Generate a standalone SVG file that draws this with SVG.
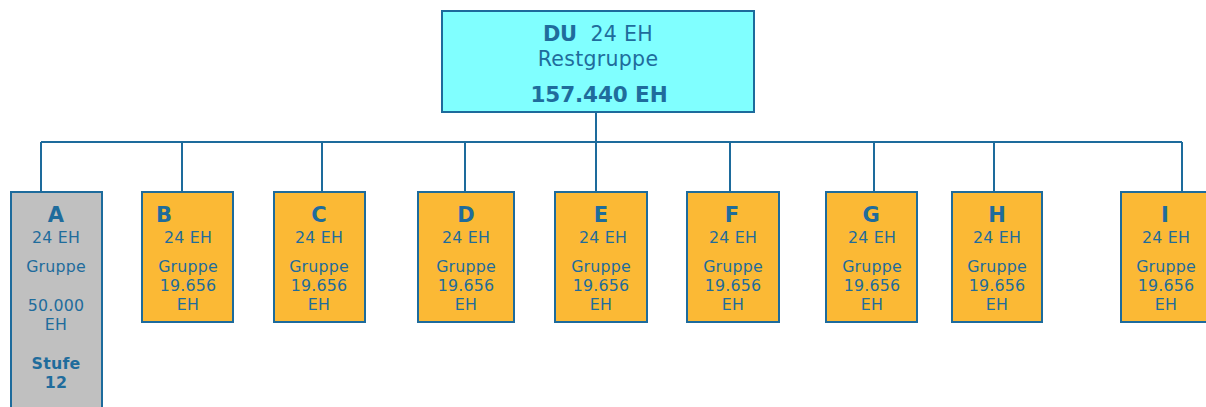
<svg xmlns="http://www.w3.org/2000/svg" width="1206" height="407" viewBox="0 0 1206 407">
<style>
.box{stroke:#1d6b9c;stroke-width:2}
.top{fill:#80ffff}
.org{fill:#fbb935}
.gry{fill:#c0c0c0}
text{font-family:"DejaVu Sans",Verdana,sans-serif;fill:#1f6c9c;text-anchor:middle}
.t{font-size:15.8px;letter-spacing:0.2px}
.h{font-size:21px;font-weight:bold}
.big{font-size:20.5px;letter-spacing:0.3px}
.bigb{font-size:21.5px;font-weight:bold;letter-spacing:-0.1px}
.c{fill:none;stroke:#1d6b9c;stroke-width:2}
</style>
<rect width="1206" height="407" fill="#ffffff"/>
<g id="connectors">
<path class="c" d="M596,112V142M41,142H1182M41,142V192M182,142V192M322,142V192M465,142V192M596,142V192M730,142V192M874,142V192M994,142V192M1182,142V192"/>
</g>
<g id="DU">
<rect class="box top" x="442" y="11" width="312" height="101"/>
<text x="598" y="41"><tspan font-size="21px" font-weight="bold" letter-spacing="-0.5px">DU</tspan><tspan class="big" dx="14">24 EH</tspan></text>
<text class="big" x="598" y="66">Restgruppe</text>
<text class="bigb" x="599" y="102">157.440 EH</text>
</g>
<g id="A">
<rect class="box gry" x="11" y="192" width="91" height="218"/>
<text class="h" x="56" y="222">A</text>
<text class="t" x="56" y="243">24 EH</text>
<text class="t" x="56" y="272">Gruppe</text>
<text class="t" x="56" y="311">50.000</text>
<text class="t" x="56" y="330">EH</text>
<text class="t" x="56" y="369" font-weight="bold">Stufe</text>
<text class="t" x="56" y="388" font-weight="bold">12</text>
</g>
<g id="B">
<rect class="box org" x="142" y="192" width="91" height="130"/>
<text class="h" x="164" y="222">B</text>
<text class="t" x="188" y="243">24 EH</text>
<text class="t" x="188" y="272">Gruppe</text>
<text class="t" x="188" y="291">19.656</text>
<text class="t" x="188" y="310">EH</text>
</g>
<g id="C">
<rect class="box org" x="274" y="192" width="91" height="130"/>
<text class="h" x="319" y="222">C</text>
<text class="t" x="319" y="243">24 EH</text>
<text class="t" x="319" y="272">Gruppe</text>
<text class="t" x="319" y="291">19.656</text>
<text class="t" x="319" y="310">EH</text>
</g>
<g id="D">
<rect class="box org" x="418" y="192" width="96" height="130"/>
<text class="h" x="466" y="222">D</text>
<text class="t" x="466" y="243">24 EH</text>
<text class="t" x="466" y="272">Gruppe</text>
<text class="t" x="466" y="291">19.656</text>
<text class="t" x="466" y="310">EH</text>
</g>
<g id="E">
<rect class="box org" x="555" y="192" width="92" height="130"/>
<text class="h" x="601" y="222">E</text>
<text class="t" x="603" y="243">24 EH</text>
<text class="t" x="601" y="272">Gruppe</text>
<text class="t" x="601" y="291">19.656</text>
<text class="t" x="601" y="310">EH</text>
</g>
<g id="F">
<rect class="box org" x="687" y="192" width="92" height="130"/>
<text class="h" x="732" y="222">F</text>
<text class="t" x="733" y="243">24 EH</text>
<text class="t" x="733" y="272">Gruppe</text>
<text class="t" x="733" y="291">19.656</text>
<text class="t" x="733" y="310">EH</text>
</g>
<g id="G">
<rect class="box org" x="826" y="192" width="91" height="130"/>
<text class="h" x="871" y="222">G</text>
<text class="t" x="872" y="243">24 EH</text>
<text class="t" x="872" y="272">Gruppe</text>
<text class="t" x="872" y="291">19.656</text>
<text class="t" x="872" y="310">EH</text>
</g>
<g id="H">
<rect class="box org" x="952" y="192" width="90" height="130"/>
<text class="h" x="997" y="222">H</text>
<text class="t" x="997" y="243">24 EH</text>
<text class="t" x="997" y="272">Gruppe</text>
<text class="t" x="997" y="291">19.656</text>
<text class="t" x="997" y="310">EH</text>
</g>
<g id="I">
<rect class="box org" x="1121" y="192" width="91" height="130"/>
<text class="h" x="1165" y="222">I</text>
<text class="t" x="1166" y="243">24 EH</text>
<text class="t" x="1166" y="272">Gruppe</text>
<text class="t" x="1166" y="291">19.656</text>
<text class="t" x="1166" y="310">EH</text>
</g>
</svg>
